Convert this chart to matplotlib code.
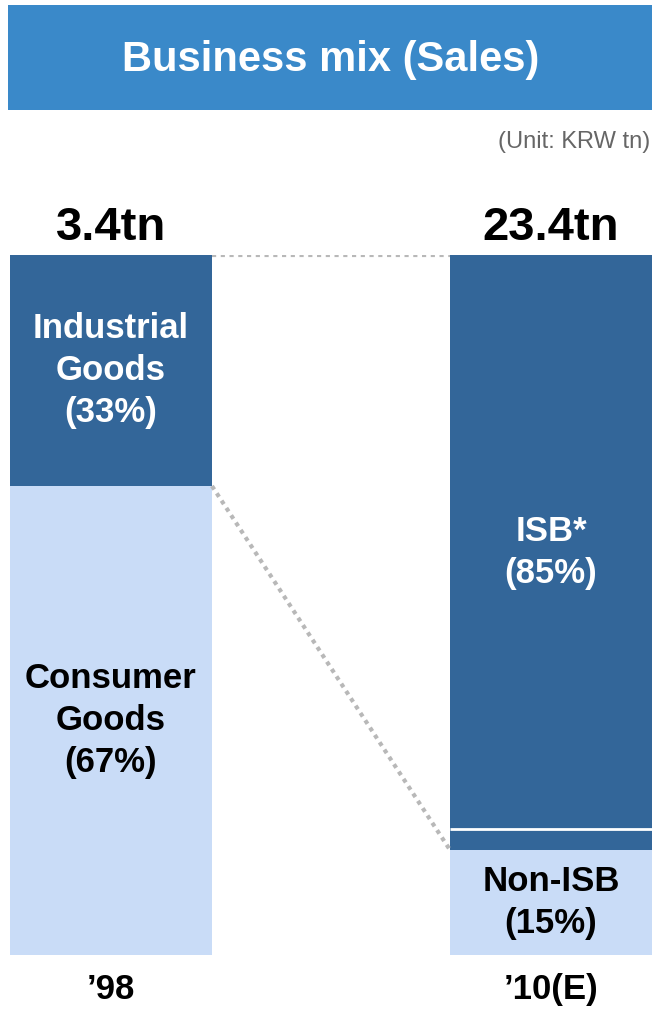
import matplotlib.pyplot as plt
from matplotlib.patches import Rectangle

plt.rcParams['font.family'] = ['Liberation Sans', 'DejaVu Sans']

years = ["\u201998", "\u201910(E)"]
totals = ["3.4tn", "23.4tn"]
# share of sales (%), bottom segment first
lower_share = [67, 15]
upper_share = [33, 85]
lower_names = ["Consumer\nGoods", "Non-ISB"]
upper_names = ["Industrial\nGoods", "ISB*"]

dark = "#336699"
light = "#C9DCF7"
banner = "#3A89C9"

fig = plt.figure(figsize=(6.52, 10.17), dpi=100)
ax = fig.add_axes([10 / 652, 62 / 1017, 642 / 652, 700 / 1017])

x = [0, 1]
w = 0.459
ax.bar(x, lower_share, width=w, color=light, linewidth=0)
ax.bar(x, upper_share, bottom=lower_share, width=w, color=dark, linewidth=0)
ax.set_xlim(-w / 2, 1 + w / 2)
ax.set_ylim(0, 100)
ax.axis("off")

# thin white rule just above the Non-ISB block
ax.plot([1 - w / 2, 1 + w / 2], [lower_share[1] + 3, lower_share[1] + 3],
        color="white", lw=2, solid_capstyle="butt")

# dotted connectors between the two bars
for y0, y1 in [(100, 100), (lower_share[0], lower_share[1])]:
    ax.plot([w / 2, 1 - w / 2], [y0, y1], color="#B8B8B8", lw=3,
            linestyle=(0, (1, 1.1)), dash_capstyle="butt")

for i in x:
    ax.text(i, lower_share[i] / 2,
            lower_names[i] + "\n(%d%%)" % lower_share[i],
            ha="center", va="center", fontsize=25, fontweight="bold",
            color="black", linespacing=1.35)
    ax.text(i, lower_share[i] + upper_share[i] / 2,
            upper_names[i] + "\n(%d%%)" % upper_share[i],
            ha="center", va="center", fontsize=25, fontweight="bold",
            color="white", linespacing=1.35)
    ax.annotate(totals[i], (i, 100), xytext=(0, 11), textcoords="offset points",
                ha="center", va="baseline", fontsize=34, fontweight="bold")
    ax.annotate(years[i], (i, 0), xytext=(0, -25), textcoords="offset points",
                ha="center", va="center", fontsize=25, fontweight="bold")

# title banner
fig.add_artist(Rectangle((8 / 652, 1 - 110 / 1017), 644 / 652, 105 / 1017,
                         transform=fig.transFigure, color=banner, lw=0))
fig.text(331 / 652, 1 - 60 / 1017, "Business mix (Sales)", color="white",
         fontsize=30, fontweight="bold", ha="center", va="center")
fig.text(650 / 652, 1 - 142 / 1017, "(Unit: KRW tn)", color="#666666",
         fontsize=17, ha="right", va="center")

fig.savefig("out.png", dpi=100)
